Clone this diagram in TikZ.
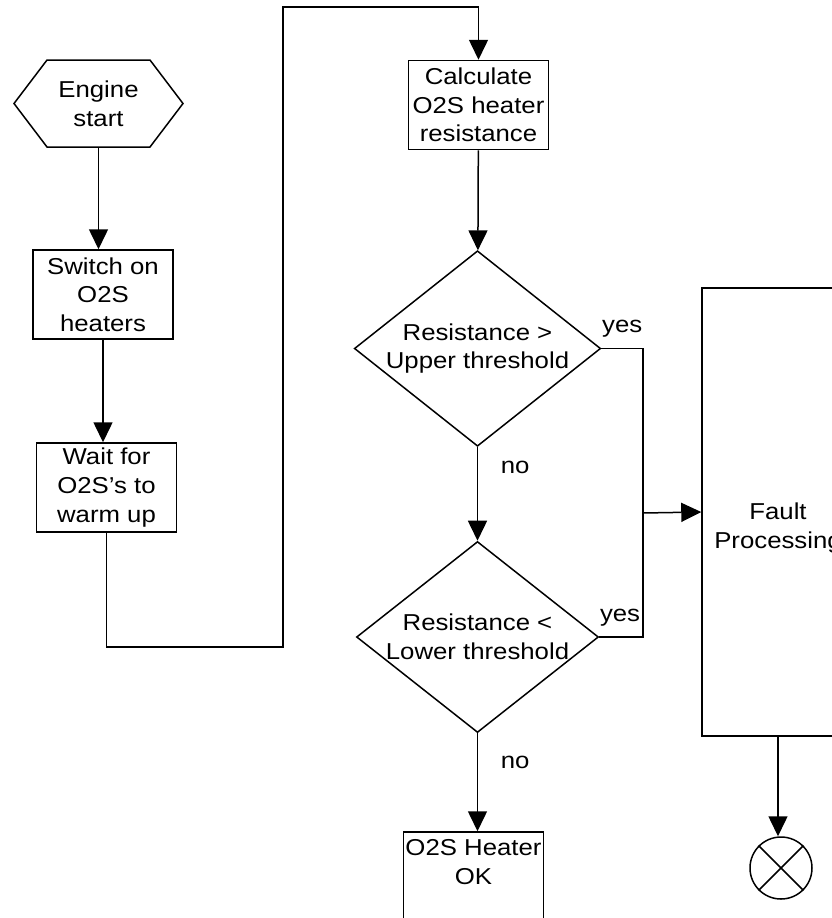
\documentclass[tikz,border=0pt]{standalone}
\usepackage{fontspec}
\setmainfont{Liberation Sans}[FakeStretch=1.12]
\usetikzlibrary{shapes.geometric,shapes.symbols,arrows.meta}
\begin{document}
\begin{tikzpicture}[x=0.5pt,y=-0.5pt,line width=0.75pt,
    every node/.style={font=\fontsize{11.5}{14.3}\selectfont,align=center},
    box/.style={draw,rectangle,minimum width=70pt,minimum height=44.5pt,inner sep=0pt},
    decision/.style={draw,diamond,aspect=1.26,minimum width=121pt,minimum height=95.5pt,inner sep=0pt},
    yeslbl/.style={anchor=south west,inner sep=0pt,yshift=5pt},
    arr/.style={-{Triangle[length=10pt,width=9.5pt]}}]
    \useasboundingbox (0,0) rectangle (832,918);
    \clip (0,0) rectangle (832,918);
    % left column
    \node[draw,signal,signal to=east and west,signal pointer angle=105.6,
          minimum width=84.5pt,minimum height=43.5pt,inner sep=0pt] (start) at (98.5,103.5) {Engine\\start};
    \node[box] (switch) at (103,294.5) {Switch on\\O2S\\heaters};
    \node[box] (wait) at (106.5,487.5) {Wait for\\O2S's to\\warm up};
    % middle column
    \node[box] (calc) at (478.5,105) {Calculate\\O2S heater\\resistance};
    \node[decision] (upper) at (477.5,348.5) {Resistance >\\Upper threshold};
    \node[decision] (lower) at (477.5,637) {Resistance <\\Lower threshold};
    \node[box] (ok) at (473.5,876.5) {O2S Heater\\OK\\~};
    % right column
    \node[draw,rectangle,minimum width=76pt,minimum height=224pt,inner sep=0pt] (fault) at (778,512) {\strut\\Fault\\Processing};
    \node[draw,circle,minimum size=31pt,inner sep=0pt] (stop) at (781,868) {};
    \draw (stop.45) -- (stop.225);
    \draw (stop.135) -- (stop.-45);
    % turning points
    \coordinate (lowturn) at (283,647);
    \coordinate (topturn) at (283,7);
    \coordinate (merge) at (643,513);
    % connectors
    \draw[arr] (start.south) -- (start.south |- switch.north);
    \draw[arr] (switch.south) -- (switch.south |- wait.north);
    \draw[arr] (wait.south) |- (lowturn) -- (topturn) -| (calc.north);
    \draw[arr] (calc) -- (upper);
    \draw[arr] (upper) -- node[pos=0.22,right=8pt] {no} (lower);
    \draw[arr] (lower.south) -- node[pos=0.3,right=8pt] {no} (lower.south |- ok.north);
    \draw (upper.east) node[yeslbl] {yes} -| (merge) |- (lower.east) node[yeslbl] {yes};
    \draw[arr] (merge) -- (fault.west);
    \draw[arr] (fault.south) -- (fault.south |- stop.north);
\end{tikzpicture}
\end{document}
